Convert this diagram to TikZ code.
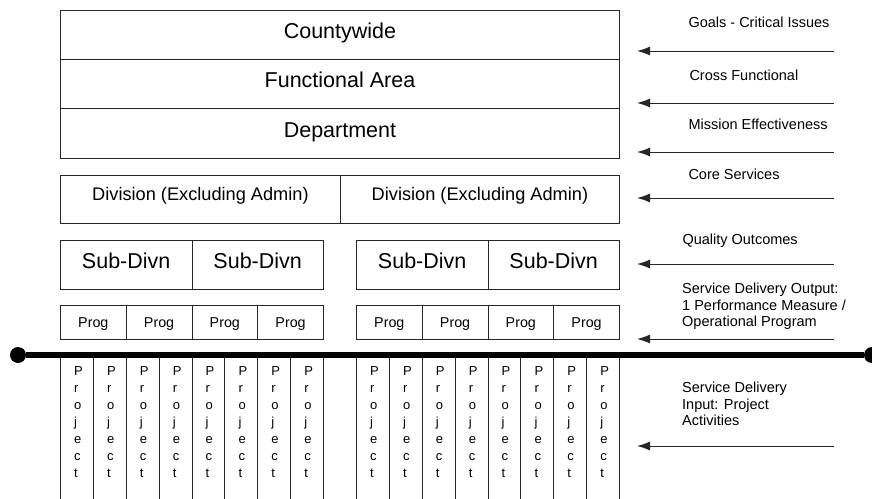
\documentclass[tikz,border=0pt]{standalone}
\usepackage{fontspec}
\setmainfont{Liberation Sans}
\usetikzlibrary{arrows.meta}

\begin{document}
\begin{tikzpicture}[x=1pt, y=-1pt]
	% Define styles
	\tikzstyle{tierbox} = [rectangle, draw=black!85, line width=0.9pt, inner sep=0pt, anchor=north west]
	\tikzstyle{tiertext} = [inner sep=0pt, anchor=base, font=\fontsize{21.5}{26}\selectfont]
	\tikzstyle{divtext} = [inner sep=0pt, anchor=base, font=\fontsize{18.2}{22}\selectfont]
	\tikzstyle{progtext} = [inner sep=0pt, anchor=base, font=\fontsize{14.3}{17}\selectfont]
	\tikzstyle{projtext} = [inner sep=0pt, anchor=north west, align=left, font=\fontsize{13}{17}\selectfont]
	\tikzstyle{note} = [inner sep=0pt, anchor=north west, align=left, font=\fontsize{14.5}{16.7}\selectfont]
	\tikzstyle{dot} = [circle, fill=black, inner sep=0pt, minimum size=16pt]
	\tikzstyle{spine} = [line width=6pt]
	\tikzstyle{arrow} = [draw=black!85, line width=1pt, -{Latex[length=13pt, width=9pt]}]

	\useasboundingbox (0,0) rectangle (872,498);

	% Top tiers
	\node (county) [tierbox, minimum width=559pt, minimum height=49pt] at (60,10) {};
	\node (funct) [tierbox, minimum width=559pt, minimum height=49pt] at (60,59) {};
	\node (dept) [tierbox, minimum width=559pt, minimum height=50pt] at (60,108) {};
	\node (countyT) [tiertext] at ([yshift=-3.7pt]county.center) {Countywide};
	\node (functT) [tiertext] at ([yshift=-3.7pt]funct.center) {Functional Area};
	\node (deptT) [tiertext] at ([yshift=-3.7pt]dept.center) {Department};

	% Divisions
	\node (divL) [tierbox, minimum width=280pt, minimum height=48pt] at (60,175) {};
	\node (divR) [tierbox, minimum width=279pt, minimum height=48pt] at (340,175) {};
	\node (divLT) [divtext] at ([yshift=-1pt]divL.center) {Division (Excluding Admin)};
	\node (divRT) [divtext] at ([yshift=-1pt]divR.center) {Division (Excluding Admin)};

	% Sub-divisions
	\node (subA) [tierbox, minimum width=131.5pt, minimum height=49pt] at (60,240) {};
	\node (subB) [tierbox, minimum width=131.5pt, minimum height=49pt] at (191.5,240) {};
	\node (subC) [tierbox, minimum width=131.5pt, minimum height=49pt] at (356,240) {};
	\node (subD) [tierbox, minimum width=131.5pt, minimum height=49pt] at (487.5,240) {};
	\node (subAT) [tiertext] at ([yshift=-3.2pt]subA.center) {Sub-Divn};
	\node (subBT) [tiertext] at ([yshift=-3.2pt]subB.center) {Sub-Divn};
	\node (subCT) [tiertext] at ([yshift=-3.2pt]subC.center) {Sub-Divn};
	\node (subDT) [tiertext] at ([yshift=-3.2pt]subD.center) {Sub-Divn};

	% Programs
	\foreach \i in {0,...,3} {
		\node (progL\i) [tierbox, minimum width=65.75pt, minimum height=34pt] at ({60+\i*65.75},305) {};
		\node [progtext] at ([yshift=-5pt]progL\i.center) {Prog};
		\node (progR\i) [tierbox, minimum width=65.75pt, minimum height=34pt] at ({356+\i*65.75},305) {};
		\node [progtext] at ([yshift=-5pt]progR\i.center) {Prog};
	}

	% Projects
	\foreach \i in {0,...,7} {
		\node (projL\i) [tierbox, minimum width=32.875pt, minimum height=150pt] at ({60+\i*32.875},357) {};
		\node [projtext] at ([xshift=14pt, yshift=-9pt]projL\i.north west) {P\\r\\o\\j\\e\\c\\t};
		\node (projR\i) [tierbox, minimum width=32.875pt, minimum height=150pt] at ({356+\i*32.875},357) {};
		\node [projtext] at ([xshift=14pt, yshift=-9pt]projR\i.north west) {P\\r\\o\\j\\e\\c\\t};
	}

	% Service delivery line
	\node (lineL) [dot] at (18,355) {};
	\node (lineR) [dot] at (872,355) {};
	\draw [spine] (lineL) -- (lineR);

	% Notes
	\node (goals) [note] at (688.3,16.7) {Goals - Critical Issues};
	\node (cross) [note] at (689.3,70) {Cross Functional};
	\node (mission) [note] at (688.3,118.3) {Mission Effectiveness};
	\node (core) [note] at (688.3,168.3) {Core Services};
	\node (quality) [note] at (682.3,234) {Quality Outcomes};
	\node (output) [note] at (682,282.7) {Service Delivery Output:\\1 Performance Measure /\\Operational Program};
	\node (input) [note] at (682,381.7) {Service Delivery\\Input: Project\\Activities};

	% Arrows
	\coordinate (goalsS) at (834,51);    \coordinate (goalsE) at (637,51);
	\coordinate (crossS) at (834,103);   \coordinate (crossE) at (637,103);
	\coordinate (missionS) at (834,152); \coordinate (missionE) at (637,152);
	\coordinate (coreS) at (834,198);    \coordinate (coreE) at (637,198);
	\coordinate (qualityS) at (834,264); \coordinate (qualityE) at (637,264);
	\coordinate (outputS) at (834,339);  \coordinate (outputE) at (637,339);
	\coordinate (inputS) at (834,446);   \coordinate (inputE) at (637,446);
	\draw [arrow] (goalsS) -- (goalsE);
	\draw [arrow] (crossS) -- (crossE);
	\draw [arrow] (missionS) -- (missionE);
	\draw [arrow] (coreS) -- (coreE);
	\draw [arrow] (qualityS) -- (qualityE);
	\draw [arrow] (outputS) -- (outputE);
	\draw [arrow] (inputS) -- (inputE);
\end{tikzpicture}
\end{document}
